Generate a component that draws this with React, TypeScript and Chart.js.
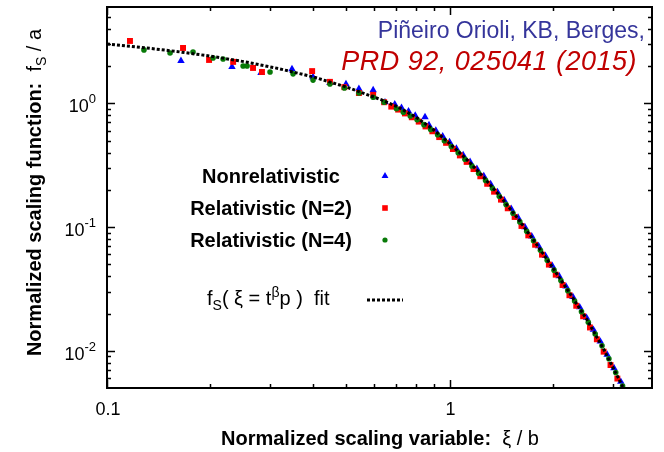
import React, { useEffect, useRef } from 'react';
import { Chart, registerables } from 'chart.js';

Chart.register(...registerables);

// ---------- data ----------
const blueXi = [0.1644, 0.2317, 0.2816, 0.3468, 0.3995, 0.4475, 0.4985, 0.5438, 0.5984, 0.648,
  0.692, 0.724, 0.759, 0.794, 0.848, 0.871, 0.912, 0.955, 1.0, 1.047,
  1.096, 1.148, 1.202, 1.259, 1.318, 1.380, 1.445, 1.514, 1.585, 1.660,
  1.738, 1.820, 1.905, 1.995, 2.089, 2.188, 2.291, 2.399, 2.512, 2.630,
  2.754, 2.884, 3.020, 3.162];
const blueF = [2.20, 1.97, 1.76, 1.89, 1.63, 1.46, 1.43, 1.31, 1.28, 1.02,
  0.979, 0.919, 0.860, 0.797, 0.775, 0.666, 0.602, 0.540, 0.486, 0.431,
  0.382, 0.337, 0.295, 0.258, 0.2225, 0.1920, 0.1646, 0.1401, 0.1192, 0.1000,
  0.0840, 0.0702, 0.0584, 0.0486, 0.0401, 0.0331, 0.0273, 0.0225, 0.0185, 0.01479,
  0.01189, 0.00933, 0.00724, 0.00562];

const redXi = [0.1167, 0.1667, 0.1986, 0.2335, 0.2669, 0.2834, 0.3971, 0.4475, 0.4931, 0.5438, 0.5984, 0.6443,
  0.676, 0.708, 0.741, 0.776, 0.813, 0.851, 0.891, 0.933, 0.977, 1.023,
  1.072, 1.122, 1.175, 1.230, 1.288, 1.349, 1.413, 1.479, 1.549, 1.622,
  1.698, 1.778, 1.862, 1.950, 2.042, 2.138, 2.239, 2.344, 2.455, 2.570,
  2.692, 2.818, 2.951, 3.090, 3.236];
const redF = [3.19, 2.80, 2.24, 2.16, 1.93, 1.79, 1.82, 1.49, 1.35, 1.21, 1.17, 1.02,
  0.940, 0.889, 0.828, 0.771, 0.711, 0.650, 0.594, 0.533, 0.479, 0.427,
  0.379, 0.336, 0.294, 0.257, 0.2236, 0.193, 0.1665, 0.1417, 0.1206, 0.1020,
  0.0856, 0.0719, 0.0598, 0.0497, 0.0412, 0.0340, 0.0281, 0.0231, 0.0190, 0.01542,
  0.01238, 0.00983, 0.00767, 0.00596, 0.00462];

const greenXi = [0.1282, 0.1528, 0.1783, 0.2040, 0.2182, 0.2497, 0.2564, 0.2992, 0.3493, 0.3995, 0.4475, 0.4931, 0.5438, 0.5984, 0.6443,
  0.700, 0.733, 0.768, 0.804, 0.842, 0.881, 0.923, 0.966, 1.012, 1.060,
  1.109, 1.162, 1.216, 1.274, 1.334, 1.397, 1.462, 1.532, 1.604, 1.680,
  1.759, 1.842, 1.928, 2.019, 2.114, 2.214, 2.318, 2.428, 2.542, 2.662,
  2.787, 2.919, 3.056, 3.200];
const greenF = [2.70, 2.55, 2.60, 2.32, 2.28, 2.00, 2.00, 1.79, 1.73, 1.54, 1.43, 1.33, 1.21, 1.12, 1.02,
  0.904, 0.848, 0.790, 0.735, 0.672, 0.614, 0.557, 0.499, 0.448, 0.398,
  0.353, 0.311, 0.272, 0.238, 0.2054, 0.1772, 0.1519, 0.1293, 0.1100, 0.0923,
  0.0775, 0.0648, 0.0539, 0.0448, 0.0370, 0.0306, 0.0252, 0.0207, 0.0170, 0.01365,
  0.01096, 0.00861, 0.00668, 0.00519];

const fitXi = [0.1, 0.1259, 0.1585, 0.1995, 0.2512, 0.3162, 0.3981, 0.5012, 0.631, 0.708, 0.794, 0.891,
  1.0, 1.122, 1.259, 1.413, 1.585, 1.778, 1.995, 2.239, 2.512, 2.818, 3.162, 3.311];
const fitF = [3.02, 2.83, 2.63, 2.41, 2.17, 1.91, 1.64, 1.35, 1.07, 0.931, 0.779, 0.622,
  0.475, 0.352, 0.252, 0.174, 0.1165, 0.0752, 0.0475, 0.0294, 0.01805, 0.0103, 0.0055, 0.00427];

const xMajorTicks = [0.1, 1];
const xTickLabels = ['0.1', '1'];
const xMinorTicks = [0.2, 0.3, 0.4, 0.5, 0.6, 0.7, 0.8, 0.9, 2, 3];
const yMajorTicks = [1, 0.1, 0.01];
const yTickExponents = ['0', '-1', '-2'];
const yMinorTicks = [0.006, 0.007, 0.008, 0.009, 0.02, 0.03, 0.04, 0.05, 0.06, 0.07, 0.08, 0.09,
  0.2, 0.3, 0.4, 0.5, 0.6, 0.7, 0.8, 0.9, 2, 3, 4, 5];

const seriesNames = ['Nonrelativistic', 'Relativistic (N=2)', 'Relativistic (N=4)'];
const citeLine1 = 'Piñeiro Orioli, KB, Berges,';
const citeLine2 = 'PRD 92, 025041 (2015)';

// ---------- layout ----------
const W = 664;
const H = 452;
const AREA = { left: 107, top: 7, right: 652, bottom: 388 };
const FONT = '"Liberation Sans", Arial, Helvetica, sans-serif';
const BLUE = '#0000ff';
const RED = '#ff0000';
const GREEN = '#087a08';

type Seg = { t: string; font: string; dy?: number };

function richWidth(ctx: CanvasRenderingContext2D, segs: Seg[]) {
  let w = 0;
  for (const s of segs) {
    ctx.font = s.font;
    w += ctx.measureText(s.t).width;
  }
  return w;
}

function drawRich(ctx: CanvasRenderingContext2D, segs: Seg[], x: number, y: number, align: 'left' | 'center' | 'right') {
  const w = richWidth(ctx, segs);
  let cx = align === 'left' ? x : align === 'center' ? x - w / 2 : x - w;
  ctx.textAlign = 'left';
  ctx.textBaseline = 'alphabetic';
  for (const s of segs) {
    ctx.font = s.font;
    ctx.fillText(s.t, cx, y + (s.dy || 0));
    cx += ctx.measureText(s.t).width;
  }
}

function marker(ctx: CanvasRenderingContext2D, kind: string, x: number, y: number, color: string) {
  ctx.fillStyle = color;
  ctx.beginPath();
  if (kind === 'triangle') {
    const r = 4;
    ctx.moveTo(x, y - r);
    ctx.lineTo(x + r * 0.866, y + r * 0.5);
    ctx.lineTo(x - r * 0.866, y + r * 0.5);
    ctx.closePath();
  } else if (kind === 'rect') {
    ctx.rect(x - 2.8, y - 2.8, 5.6, 5.6);
  } else {
    ctx.arc(x, y, 2.6, 0, Math.PI * 2);
  }
  ctx.fill();
}

const overlayPlugin = {
  id: 'overlay',
  afterDatasetsDraw(chart: any) {
    const ctx: CanvasRenderingContext2D = chart.ctx;
    const { left, right, top, bottom } = chart.chartArea;
    const xs = chart.scales.x;
    const ys = chart.scales.y;
    ctx.save();
    ctx.strokeStyle = '#000';
    ctx.fillStyle = '#000';
    ctx.lineWidth = 1.5;
    ctx.beginPath();
    const xt = (v: number, len: number) => {
      const p = Math.round(xs.getPixelForValue(v)) + 0.5;
      ctx.moveTo(p, bottom); ctx.lineTo(p, bottom - len);
      ctx.moveTo(p, top); ctx.lineTo(p, top + len);
    };
    const yt = (v: number, len: number) => {
      const p = Math.round(ys.getPixelForValue(v)) + 0.5;
      ctx.moveTo(left, p); ctx.lineTo(left + len, p);
      ctx.moveTo(right, p); ctx.lineTo(right - len, p);
    };
    xMajorTicks.forEach((v) => xt(v, 8));
    xMinorTicks.forEach((v) => xt(v, 4));
    yMajorTicks.forEach((v) => yt(v, 8));
    yMinorTicks.forEach((v) => yt(v, 4));
    ctx.stroke();
    ctx.lineWidth = 2;
    ctx.strokeRect(left, top, right - left, bottom - top);

    // x tick labels
    xMajorTicks.forEach((v, i) => {
      drawRich(ctx, [{ t: xTickLabels[i], font: `18px ${FONT}` }], xs.getPixelForValue(v) + 1, 415, 'center');
    });
    // y tick labels
    yMajorTicks.forEach((v, i) => {
      const p = ys.getPixelForValue(v);
      drawRich(ctx, [
        { t: '10', font: `18px ${FONT}` },
        { t: yTickExponents[i], font: `13px ${FONT}`, dy: -9 },
      ], 96, p + 9, 'right');
    });

    // axis titles
    drawRich(ctx, [
      { t: 'Normalized scaling variable:', font: `bold 20px ${FONT}` },
      { t: '  ξ / b', font: `20px ${FONT}` },
    ], 380, 445, 'center');
    ctx.save();
    ctx.translate(41, 192.5);
    ctx.rotate(-Math.PI / 2);
    drawRich(ctx, [
      { t: 'Normalized scaling function:', font: `bold 20px ${FONT}` },
      { t: '  f', font: `20px ${FONT}` },
      { t: 'S', font: `14px ${FONT}`, dy: 5 },
      { t: ' / a', font: `20px ${FONT}` },
    ], 0, 0, 'center');
    ctx.restore();

    // legend
    const legendY = [183, 215, 247];
    const kinds = ['triangle', 'rect', 'circle'];
    const cols = [BLUE, RED, GREEN];
    seriesNames.forEach((n, i) => {
      ctx.fillStyle = '#000';
      drawRich(ctx, [{ t: n, font: `bold 20px ${FONT}` }], 271, legendY[i], 'center');
      marker(ctx, kinds[i], 385, legendY[i] - 7, cols[i]);
    });
    ctx.fillStyle = '#000';
    drawRich(ctx, [
      { t: 'f', font: `20px ${FONT}` },
      { t: 'S', font: `14px ${FONT}`, dy: 5 },
      { t: '( ξ = t', font: `20px ${FONT}` },
      { t: 'β', font: `14px ${FONT}`, dy: -8 },
      { t: 'p )  fit', font: `20px ${FONT}` },
    ], 207, 305, 'left');
    ctx.strokeStyle = '#000';
    ctx.lineWidth = 3;
    ctx.setLineDash([3, 2]);
    ctx.beginPath();
    ctx.moveTo(367, 300);
    ctx.lineTo(403, 300);
    ctx.stroke();
    ctx.setLineDash([]);

    // citation
    ctx.fillStyle = '#35359b';
    drawRich(ctx, [{ t: citeLine1, font: `23px ${FONT}` }], 645, 38, 'right');
    ctx.fillStyle = '#c00000';
    (ctx as any).letterSpacing = '0.5px';
    drawRich(ctx, [{ t: citeLine2, font: `italic 27px ${FONT}` }], 637, 70, 'right');
    (ctx as any).letterSpacing = '0px';
    ctx.restore();
  },
};

const toPts = (xs: number[], ys: number[]) => xs.map((x, i) => ({ x, y: ys[i] }));

export default function App() {
  const ref = useRef<HTMLCanvasElement>(null);
  useEffect(() => {
    if (!ref.current) return;
    const chart = new Chart(ref.current, {
      type: 'scatter',
      data: {
        datasets: [
          {
            label: 'fit',
            data: toPts(fitXi, fitF),
            showLine: true,
            pointRadius: 0,
            borderColor: '#000',
            borderWidth: 3,
            borderDash: [3, 2],
            fill: false,
            order: 0,
            clip: 0,
          } as any,
          {
            label: seriesNames[2],
            data: toPts(greenXi, greenF),
            pointStyle: 'circle',
            pointRadius: 2.8,
            backgroundColor: GREEN,
            borderColor: GREEN,
            borderWidth: 0,
            order: 1,
            clip: 0,
          } as any,
          {
            label: seriesNames[1],
            data: toPts(redXi, redF),
            pointStyle: 'rect',
            pointRadius: 4.2,
            backgroundColor: RED,
            borderColor: RED,
            borderWidth: 0,
            order: 2,
            clip: 0,
          } as any,
          {
            label: seriesNames[0],
            data: toPts(blueXi, blueF),
            pointStyle: 'triangle',
            pointRadius: 4.3,
            backgroundColor: BLUE,
            borderColor: BLUE,
            borderWidth: 0,
            order: 3,
            clip: 0,
          } as any,
        ],
      },
      options: {
        responsive: false,
        animation: false,
        events: [],
        layout: {
          padding: { left: AREA.left, top: AREA.top, right: W - AREA.right, bottom: H - AREA.bottom },
        },
        plugins: { legend: { display: false }, tooltip: { enabled: false } },
        scales: {
          x: { type: 'logarithmic', min: 0.1, max: 3.9, display: false },
          y: { type: 'logarithmic', min: 0.005, max: 6, display: false },
        },
      },
      plugins: [overlayPlugin],
    });
    return () => chart.destroy();
  }, []);
  return (
    <div style={{ position: 'fixed', left: 0, top: 0, width: W, height: H, background: '#fff' }}>
      <canvas ref={ref} width={W} height={H} style={{ display: 'block', width: W, height: H }} />
    </div>
  );
}
